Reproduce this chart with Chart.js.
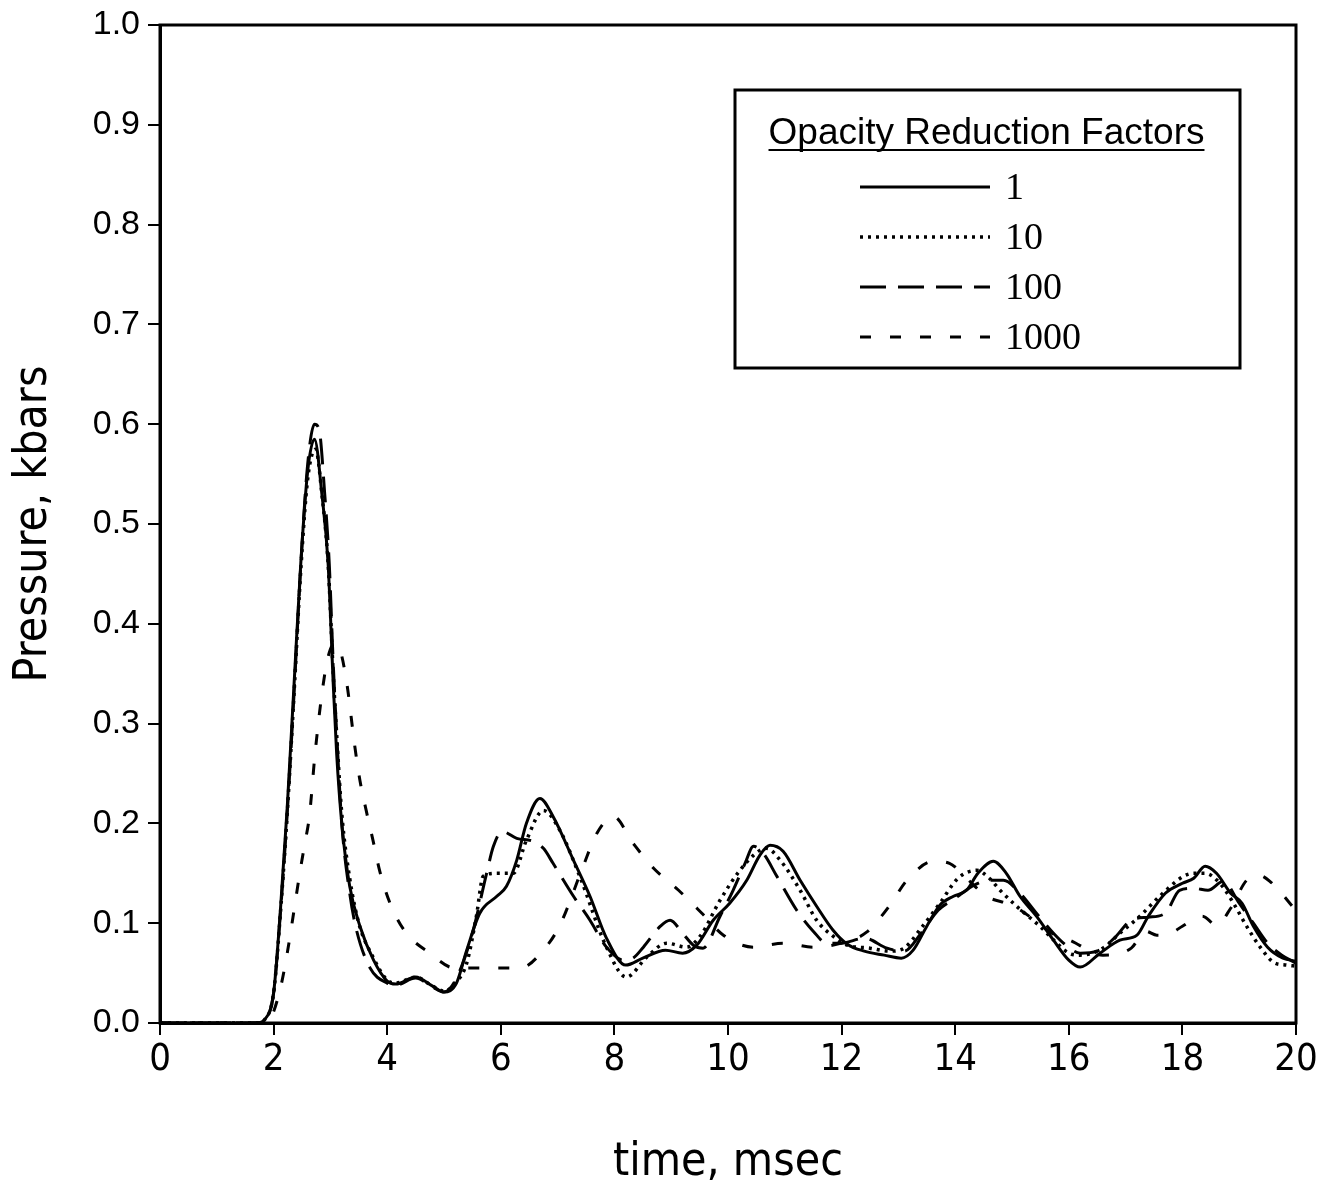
<!DOCTYPE html>
<html>
<head>
<meta charset="utf-8">
<script src="https://cdn.jsdelivr.net/npm/chart.js@4.4.1/dist/chart.umd.min.js"></script>
<style>
  html, body { margin: 0; padding: 0; background: #fff; }
  #wrap { width: 1333px; height: 1195px; position: relative; }
</style>
</head>
<body>
<div id="wrap"><canvas id="chart"></canvas></div>
<script>
// Pressure traces, one (time, pressure) pair list per opacity factor
const t1 = [0, 1.7, 1.85, 2.0, 2.12, 2.24, 2.36, 2.48, 2.6, 2.72, 2.85, 2.96, 3.05, 3.11, 3.2, 3.34, 3.52, 3.76, 4.0, 4.15, 4.5, 4.8, 5.0, 5.22, 5.4, 5.63, 5.93, 6.1, 6.28, 6.45, 6.69, 6.92, 7.28, 7.57, 7.86, 8.2, 8.5, 8.9, 9.2, 9.45, 9.74, 10.03, 10.33, 10.56, 10.74, 10.97, 11.27, 11.56, 11.85, 12.1, 12.4, 12.75, 13.05, 13.26, 13.5, 13.73, 13.97, 14.2, 14.4, 14.67, 14.9, 15.14, 15.43, 15.73, 16.0, 16.2, 16.55, 16.9, 17.2, 17.4, 17.7, 18.0, 18.2, 18.4, 18.6, 18.85, 19.05, 19.25, 19.5, 19.77, 20];
const p1 = [0, 0, 0.004, 0.03, 0.113, 0.216, 0.339, 0.462, 0.553, 0.585, 0.53, 0.46, 0.34, 0.27, 0.2, 0.137, 0.097, 0.063, 0.042, 0.039, 0.046, 0.037, 0.031, 0.04, 0.073, 0.11, 0.127, 0.137, 0.163, 0.2, 0.225, 0.207, 0.163, 0.127, 0.085, 0.058, 0.065, 0.073, 0.07, 0.078, 0.103, 0.12, 0.143, 0.168, 0.178, 0.172, 0.143, 0.117, 0.093, 0.079, 0.072, 0.068, 0.065, 0.073, 0.097, 0.118, 0.127, 0.133, 0.15, 0.162, 0.15, 0.127, 0.107, 0.083, 0.063, 0.056, 0.07, 0.083, 0.088, 0.107, 0.13, 0.14, 0.145, 0.157, 0.15, 0.13, 0.12, 0.097, 0.076, 0.065, 0.062];

const t10 = [0, 1.7, 1.85, 2.0, 2.12, 2.24, 2.36, 2.48, 2.6, 2.74, 2.85, 2.96, 3.05, 3.12, 3.2, 3.34, 3.5, 3.76, 4.0, 4.15, 4.5, 4.8, 5.0, 5.2, 5.4, 5.57, 5.69, 5.93, 6.22, 6.45, 6.75, 7.04, 7.39, 7.86, 8.21, 8.57, 8.92, 9.27, 9.51, 9.86, 10.21, 10.56, 10.68, 10.92, 11.27, 11.56, 11.85, 12.1, 12.5, 12.85, 13.1, 13.4, 13.73, 14.05, 14.38, 14.6, 14.79, 15.08, 15.49, 15.79, 16.0, 16.2, 16.6, 16.9, 17.25, 17.6, 18.02, 18.2, 18.4, 18.66, 18.9, 19.13, 19.37, 19.6, 19.84, 20];
const p10 = [0, 0, 0.004, 0.03, 0.11, 0.21, 0.33, 0.455, 0.545, 0.575, 0.53, 0.46, 0.35, 0.28, 0.21, 0.145, 0.1, 0.065, 0.043, 0.04, 0.046, 0.037, 0.032, 0.04, 0.06, 0.107, 0.147, 0.15, 0.15, 0.183, 0.213, 0.193, 0.147, 0.076, 0.046, 0.066, 0.08, 0.076, 0.087, 0.123, 0.153, 0.173, 0.175, 0.163, 0.133, 0.103, 0.087, 0.078, 0.075, 0.072, 0.075, 0.095, 0.12, 0.145, 0.153, 0.145, 0.133, 0.117, 0.097, 0.08, 0.07, 0.068, 0.075, 0.09, 0.107, 0.127, 0.147, 0.15, 0.15, 0.14, 0.12, 0.097, 0.076, 0.061, 0.058, 0.057];

const t100 = [0, 1.7, 1.85, 2.0, 2.12, 2.24, 2.36, 2.48, 2.6, 2.72, 2.8, 2.9, 2.98, 3.05, 3.12, 3.2, 3.34, 3.46, 3.7, 4.0, 4.15, 4.5, 4.8, 5.0, 5.22, 5.5, 5.75, 5.87, 6.02, 6.28, 6.57, 6.75, 6.92, 7.28, 7.57, 7.86, 8.16, 8.33, 8.51, 8.81, 8.98, 9.2, 9.39, 9.56, 9.86, 10.09, 10.3, 10.45, 10.62, 10.86, 11.21, 11.5, 11.74, 12.0, 12.4, 12.8, 13.1, 13.4, 13.7, 14.0, 14.3, 14.6, 14.85, 15.14, 15.43, 15.73, 15.95, 16.2, 16.5, 16.8, 17.1, 17.4, 17.7, 17.95, 18.2, 18.45, 18.72, 19.0, 19.25, 19.5, 19.75, 20];
const p100 = [0, 0, 0.004, 0.03, 0.11, 0.21, 0.33, 0.46, 0.56, 0.6, 0.595, 0.53, 0.46, 0.36, 0.28, 0.2, 0.13, 0.093, 0.055, 0.04, 0.038, 0.045, 0.036, 0.031, 0.045, 0.09, 0.15, 0.177, 0.192, 0.185, 0.182, 0.175, 0.16, 0.127, 0.103, 0.076, 0.063, 0.065, 0.076, 0.097, 0.103, 0.09, 0.078, 0.075, 0.107, 0.133, 0.16, 0.177, 0.17, 0.147, 0.113, 0.092, 0.08, 0.08, 0.085, 0.075, 0.072, 0.09, 0.113, 0.125, 0.137, 0.143, 0.143, 0.13, 0.11, 0.09, 0.078, 0.07, 0.072, 0.085, 0.103, 0.106, 0.11, 0.133, 0.135, 0.133, 0.142, 0.12, 0.1, 0.08, 0.068, 0.06];

const t1000 = [0, 1.8, 1.95, 2.12, 2.24, 2.36, 2.46, 2.55, 2.63, 2.73, 2.86, 2.96, 3.07, 3.17, 3.29, 3.43, 3.52, 3.63, 3.75, 3.87, 4.05, 4.31, 4.75, 5.19, 5.75, 6.34, 6.75, 7.04, 7.45, 7.69, 7.98, 8.33, 8.69, 9.13, 9.54, 9.92, 10.45, 10.97, 11.5, 12.0, 12.44, 12.85, 13.15, 13.62, 13.9, 14.2, 14.55, 15.0, 15.4, 15.7, 16.02, 16.6, 17.1, 17.35, 17.55, 17.8, 18.0, 18.35, 18.6, 18.85, 19.13, 19.35, 19.54, 19.92, 20];
const p1000 = [0, 0, 0.005, 0.035, 0.07, 0.113, 0.15, 0.18, 0.207, 0.27, 0.334, 0.367, 0.38, 0.374, 0.34, 0.277, 0.243, 0.213, 0.183, 0.152, 0.12, 0.092, 0.07, 0.055, 0.055, 0.055, 0.073, 0.098, 0.157, 0.19, 0.207, 0.18, 0.155, 0.133, 0.11, 0.088, 0.076, 0.08, 0.076, 0.08, 0.091, 0.118, 0.143, 0.162, 0.16, 0.145, 0.127, 0.118, 0.103, 0.09, 0.083, 0.068, 0.075, 0.092, 0.088, 0.09, 0.097, 0.107, 0.098, 0.115, 0.143, 0.148, 0.142, 0.118, 0.112];

const seriesLabels = ['1', '10', '100', '1000'];
const legendTitle = 'Opacity Reduction Factors';

const pts = (xs, ys) => xs.map((x, i) => ({ x: x, y: ys[i] }));

const sans = "'Liberation Sans', Arial, Helvetica, sans-serif";
const narrow = "'Liberation Sans Narrow', 'DejaVu Sans Condensed', 'Liberation Sans', Arial, sans-serif";
const serif = "'Liberation Serif', 'Times New Roman', serif";

// frame round the plot area (top and right sides included)
const framePlugin = {
    id: 'frame',
    afterDatasetsDraw(chart) {
        const { ctx, chartArea: a } = chart;
        ctx.save();
        ctx.strokeStyle = '#000';
        ctx.lineWidth = 3;
        ctx.strokeRect(a.left, a.top, a.right - a.left, a.bottom - a.top);
        ctx.restore();
    }
};

// boxed legend with underlined heading, drawn inside the plot
const boxLegend = {
    id: 'boxLegend',
    afterDraw(chart) {
        const { ctx, chartArea: a } = chart;
        const bx = a.left + 575, by = a.top + 65, bw = 505, bh = 278;
        ctx.save();
        ctx.fillStyle = '#fff';
        ctx.fillRect(bx, by, bw, bh);
        ctx.strokeStyle = '#000';
        ctx.lineWidth = 3;
        ctx.strokeRect(bx, by, bw, bh);

        ctx.fillStyle = '#000';
        ctx.font = '37px ' + sans;
        ctx.textAlign = 'center';
        ctx.textBaseline = 'alphabetic';
        const cx = bx + bw / 2 - 1;
        ctx.fillText(legendTitle, cx, by + 54);
        const tw = ctx.measureText(legendTitle).width;
        ctx.lineWidth = 2;
        ctx.beginPath();
        ctx.moveTo(cx - tw / 2, by + 60);
        ctx.lineTo(cx + tw / 2, by + 60);
        ctx.stroke();

        ctx.font = '38px ' + serif;
        ctx.textAlign = 'left';
        ctx.textBaseline = 'middle';
        chart.data.datasets.forEach((ds, i) => {
            const y = by + 97 + i * 50;
            ctx.save();
            ctx.strokeStyle = ds.borderColor;
            ctx.lineWidth = ds.borderWidth;
            ctx.setLineDash(ds.borderDash || []);
            ctx.beginPath();
            ctx.moveTo(bx + 125, y);
            ctx.lineTo(bx + 255, y);
            ctx.stroke();
            ctx.restore();
            ctx.fillText(ds.label, bx + 270, y + 2);
        });
        ctx.restore();
    }
};

const common = {
    borderColor: '#000',
    borderWidth: 3,
    pointRadius: 0,
    fill: false,
    cubicInterpolationMode: 'monotone'
};

new Chart(document.getElementById('chart').getContext('2d'), {
    type: 'line',
    data: {
        datasets: [
            { ...common, label: seriesLabels[0], data: pts(t1, p1) },
            { ...common, label: seriesLabels[1], data: pts(t10, p10), borderDash: [3, 5], borderWidth: 3.5 },
            { ...common, label: seriesLabels[2], data: pts(t100, p100), borderDash: [26, 12] },
            { ...common, label: seriesLabels[3], data: pts(t1000, p1000), borderDash: [11, 19] }
        ]
    },
    options: {
        responsive: true,
        maintainAspectRatio: false,
        animation: false,
        layout: { padding: { top: 25, right: 37, left: 0, bottom: 0 } },
        plugins: {
            legend: { display: false },
            tooltip: { enabled: false }
        },
        scales: {
            x: {
                type: 'linear',
                min: 0,
                max: 20,
                ticks: {
                    stepSize: 2,
                    color: '#000',
                    padding: 2,
                    font: { family: narrow, size: 38 }
                },
                grid: { drawOnChartArea: false, color: '#000', lineWidth: 2, tickLength: 12 },
                border: { display: true, color: '#000', width: 3 },
                title: {
                    display: true,
                    text: 'time, msec',
                    color: '#000',
                    font: { family: narrow, size: 46 },
                    padding: { top: 0, bottom: 4 }
                },
                afterFit: s => { s.height = 172; }
            },
            y: {
                min: 0,
                max: 1,
                ticks: {
                    stepSize: 0.1,
                    color: '#000',
                    padding: 8,
                    font: { family: sans, size: 34, lineHeight: 1 },
                    callback: v => v.toFixed(1)
                },
                grid: { drawOnChartArea: false, color: '#000', lineWidth: 2, tickLength: 12 },
                border: { display: true, color: '#000', width: 3 },
                title: {
                    display: true,
                    text: 'Pressure, kbars',
                    color: '#000',
                    font: { family: narrow, size: 46 },
                    padding: { top: 6, bottom: 0 }
                },
                afterFit: s => { s.width = 160; }
            }
        }
    },
    plugins: [framePlugin, boxLegend]
});
</script>
</body>
</html>
